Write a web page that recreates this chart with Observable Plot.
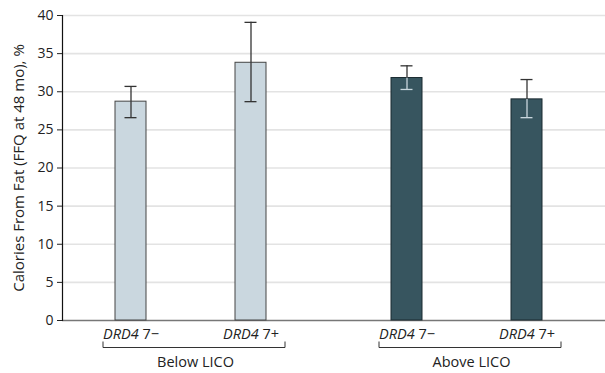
<!DOCTYPE html>
<html><head><meta charset="utf-8">
<script src="https://cdn.jsdelivr.net/npm/d3@7"></script>
<script src="https://cdn.jsdelivr.net/npm/@observablehq/plot@0.6"></script>
<style>body{margin:0;background:#fff;overflow:hidden;} svg{overflow:hidden;}</style>
</head><body><div id="chart"></div>
<script>
const groupOrder = ["Below LICO", "Above LICO"];
const genotypeOrder = ["DRD4 7−", "DRD4 7+"];
const groups = ["Below LICO", "Below LICO", "Above LICO", "Above LICO"];
const genotypes = ["DRD4 7−", "DRD4 7+", "DRD4 7−", "DRD4 7+"];
const means = [28.7, 33.8, 31.8, 29.0];
const lower = [26.6, 28.7, 30.3, 26.6];
const upper = [30.7, 39.1, 33.4, 31.6];
const yTicks = [0, 5, 10, 15, 20, 25, 30, 35, 40];

const data = means.map((m, i) => ({group: groups[i], genotype: genotypes[i], mean: m, lo: lower[i], hi: upper[i], dark: groups[i] === groupOrder[1]}));

const bracket = (index, scales, values, dims) => {
  const bw = (scales.scales && scales.scales.x && scales.scales.x.bandwidth) || 0;
  const x0 = scales.x(genotypeOrder[0]) - 12;
  const x1 = scales.x(genotypeOrder[1]) + bw + 19;
  const yb = dims.height - dims.marginBottom + 27.5;
  const g = d3.create("svg:g");
  g.append("path").attr("d", `M${x0},${yb - 6}V${yb}H${x1}V${yb - 6}`).attr("fill", "none").attr("stroke", "#333").attr("stroke-width", 1);
  return g.node();
};

const plot = Plot.plot({
  width: 605, height: 373,
  marginLeft: 62, marginRight: 0, marginTop: 15, marginBottom: 53,
  style: {fontFamily: "'Open Sans', sans-serif", fontSize: "14px", color: "#222", background: "#fff"},
  fx: {domain: groupOrder, paddingInner: 0.035, paddingOuter: 0},
  x: {domain: genotypeOrder, paddingInner: 0.74, paddingOuter: 0.472, align: 0.4615},
  y: {domain: [0, 40]},
  marks: [
    Plot.ruleY(yTicks.filter(d => d > 0), {stroke: "#e3e3e3", strokeWidth: 1.6, insetRight: -10}),
    Plot.ruleY([0], {stroke: "#777", strokeWidth: 1.3, insetRight: -10}),
    Plot.frame({anchor: "left", facetAnchor: "left", stroke: "#111", strokeWidth: 1.2}),
    Plot.barY(data, {fx: "group", x: "genotype", y: "mean", fill: d => d.dark ? "#37555f" : "#cad7df", stroke: d => d.dark ? "#1b2a30" : "#444", strokeWidth: 1}),
    Plot.ruleX(data, {fx: "group", x: "genotype", y1: "lo", y2: "mean", stroke: d => d.dark ? "#c9d6dd" : "#333", strokeWidth: 1.3}),
    Plot.ruleX(data, {fx: "group", x: "genotype", y1: "mean", y2: "hi", stroke: "#333", strokeWidth: 1.3}),
    Plot.tickY(data, {fx: "group", x: "genotype", y: "hi", stroke: "#333", strokeWidth: 1.3, insetLeft: 9.5, insetRight: 9.5}),
    Plot.tickY(data, {fx: "group", x: "genotype", y: "lo", stroke: d => d.dark ? "#c9d6dd" : "#333", strokeWidth: 1.3, insetLeft: 9.5, insetRight: 9.5}),
    Plot.axisY({ticks: yTicks, tickSize: 5, tickPadding: 4, fontSize: 14, label: "Calories From Fat (FFQ at 48 mo), %", labelAnchor: "center", labelArrow: "none", labelOffset: 49}),
    Plot.axisX({tickSize: 0, tickPadding: 8, fontSize: 14.5, label: null}),
    Plot.axisFx({anchor: "bottom", tickSize: 0, tickPadding: 36, fontSize: 14.5, label: null}),
    bracket
  ]
});

d3.select(plot).selectAll('g[aria-label="x-axis tick label"] text').each(function() {
  const t = d3.select(this).text();
  const parts = t.split(" ");
  const el = d3.select(this);
  el.text(null);
  el.append("tspan").attr("font-style", "italic").text(parts[0]);
  el.append("tspan").text(" " + parts.slice(1).join(" "));
});
d3.select(plot).selectAll('g[aria-label="y-axis label"]').attr("font-size", 15).selectAll("text").attr("font-size", 15);

document.getElementById("chart").appendChild(plot);
</script>
</body></html>
